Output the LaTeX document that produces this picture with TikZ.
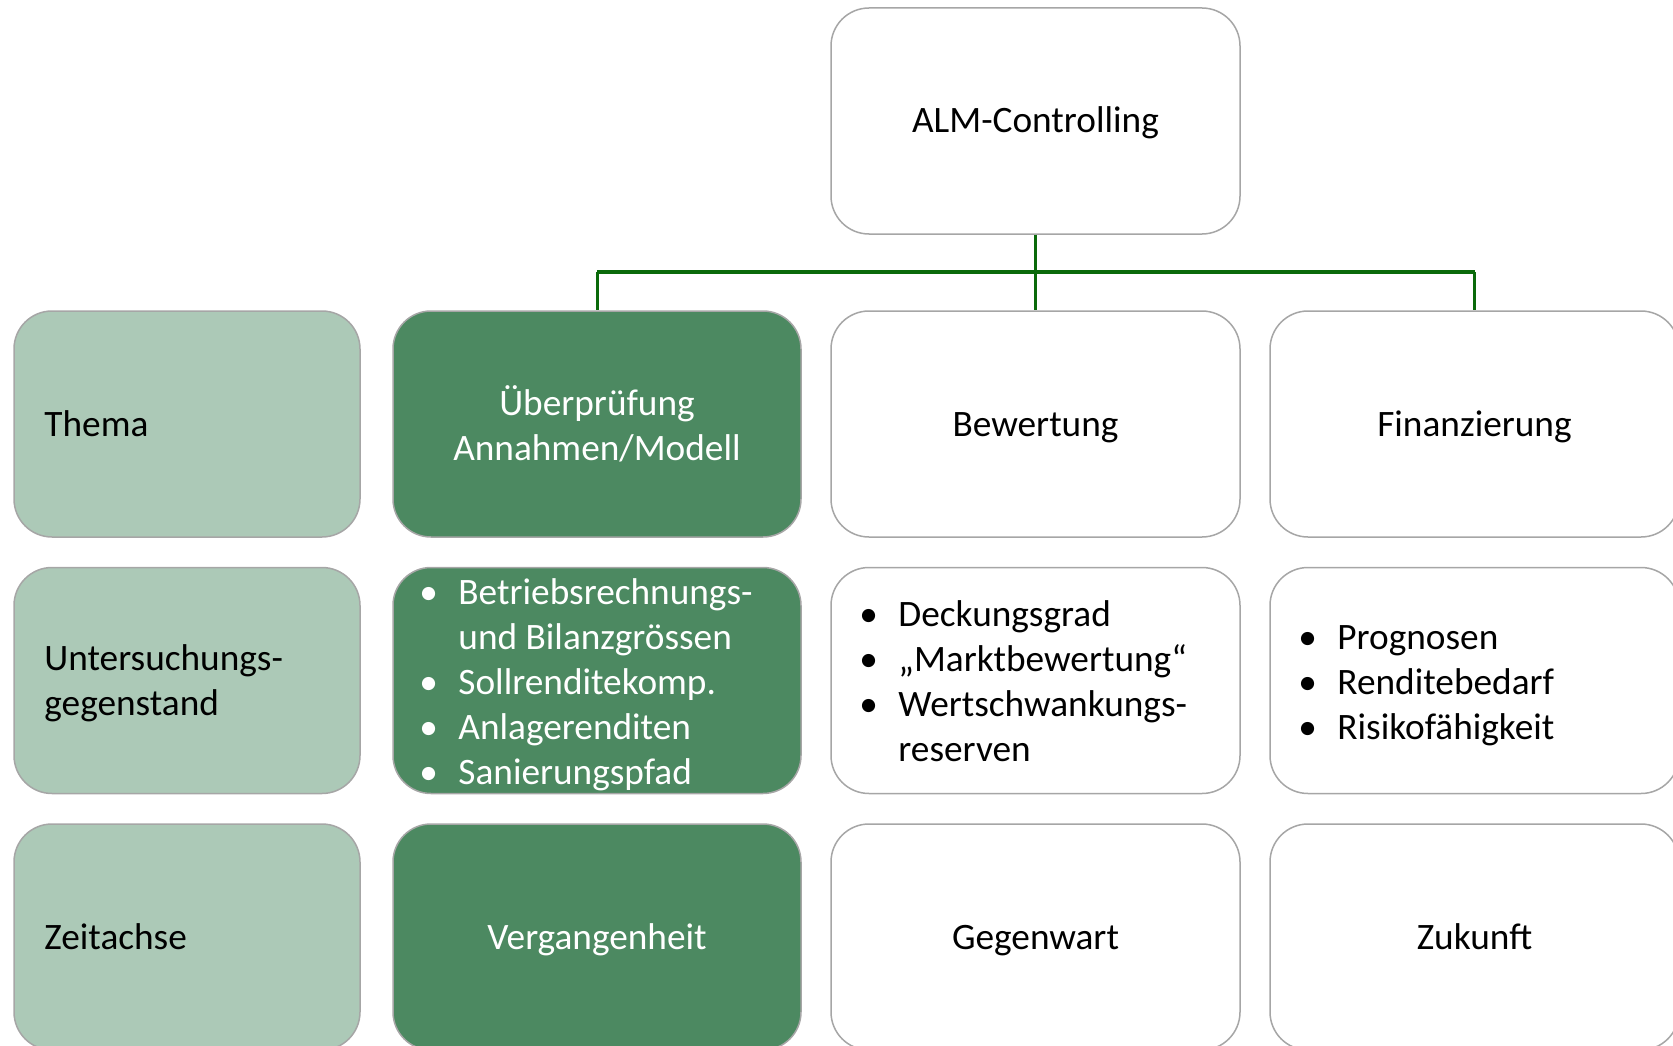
\documentclass[tikz,border=0pt]{standalone}
\usepackage{fontspec}
\setmainfont{Carlito}
\definecolor{lightg}{HTML}{ACC9B7}
\definecolor{darkg}{HTML}{4C8961}
\definecolor{boxline}{HTML}{A6A6A6}
\definecolor{conn}{HTML}{0A6A0A}
\newcommand{\bl}{\makebox[32pt][l]{\hspace*{-7pt}•}}
\newcommand{\ind}{\hspace*{32pt}}
\begin{document}
\begin{tikzpicture}[x=1pt,y=-1pt,
  base/.style={draw=boxline, line width=1.5pt, rounded corners=38pt, minimum height=226pt, inner sep=0pt, font=\fontsize{37.3}{45}\selectfont},
  whitebox/.style={base, fill=white, minimum width=409pt, text=black, align=center},
  darkbox/.style={base, fill=darkg, minimum width=408pt, text=white, align=center},
  lightbox/.style={base, fill=lightg, minimum width=346pt},
  one/.style={text height=24pt, text depth=0pt},
  lbl/.style={anchor=west, align=left, inner sep=0pt, font=\fontsize{37.3}{45}\selectfont},
  wire/.style={draw=conn, line width=3pt},
  bar/.style={draw=conn, line width=4pt}
]
\useasboundingbox (0,0) rectangle (1673,1046);
\clip (0,0) rectangle (1673,1046);

\node[whitebox, one] (top) at (1035.5,121) {ALM-Controlling};

% column 0
\node[lightbox] (l1) at (187,424) {};
\node[lightbox] (l2) at (187,680.5) {};
\node[lightbox] (l3) at (187,937) {};
\node[lbl, one] (t1) at ([xshift=31pt]l1.west) {Thema};
\node[lbl] (t2) at ([xshift=31pt,yshift=-3pt]l2.west) {Untersuchungs-\\gegenstand};
\node[lbl, one] (t3) at ([xshift=31pt]l3.west) {Zeitachse};

% column 1
\node[darkbox] (c1) at (597,424) {Überprüfung\\Annahmen/Modell};
\node[darkbox] (d2) at (597,680.5) {};
\node[lbl, text=white] (d2t) at ([xshift=34pt,yshift=-4pt]d2.west) {\bl Betriebsrechnungs-\\\ind und Bilanzgrössen\\\bl Sollrenditekomp.\\\bl Anlagerenditen\\\bl Sanierungspfad};
\node[darkbox, one] (d3) at (597,937) {Vergangenheit};

% column 2
\node[whitebox, one] (c2) at (1035.5,424) {Bewertung};
\node[whitebox] (w2) at (1035.5,680.5) {};
\node[lbl] (w2t) at ([xshift=36pt,yshift=-1pt]w2.west) {\bl Deckungsgrad\\\bl „Marktbewertung“\\\bl Wertschwankungs-\\\ind reserven};
\node[whitebox, one] (w3) at (1035.5,937) {Gegenwart};

% column 3
\node[whitebox, one] (c3) at (1474.5,424) {Finanzierung};
\node[whitebox] (v2) at (1474.5,680.5) {};
\node[lbl] (v2t) at ([xshift=36pt,yshift=-5pt]v2.west) {\bl Prognosen\\\bl Renditebedarf\\\bl Risikofähigkeit};
\node[whitebox, one] (v3) at (1474.5,937) {Zukunft};

% connectors
\coordinate (bus) at (1035.5,272);
\draw[wire] (top.south) -- (bus);
\draw[bar] (bus) -- (bus -| c1.north);
\draw[bar] (bus) -- (bus -| c3.north);
\draw[wire] (bus -| c1.north) -- (c1.north);
\draw[wire] (bus) -- (c2.north);
\draw[wire] (bus -| c3.north) -- (c3.north);
\end{tikzpicture}
\end{document}
